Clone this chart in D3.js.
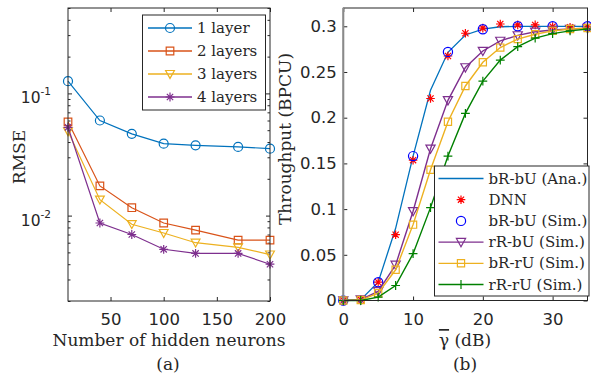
<!DOCTYPE html>
<html>
<head>
<meta charset="UTF-8">
<title>rmse_and_throughput</title>

<style type="text/css">
	body { margin: 0; background: #fff; }
	text { fill: #262626; }
	.tick text { font-family: "DejaVu Sans", sans-serif; font-size: 16.5px; fill: #262626; }
	.axis path { display: none; }
	.axis line { stroke: #262626; stroke-width: 1; }
	.label { font-family: "DejaVu Serif", serif; font-size: 17px; }
	.legend text { font-family: "DejaVu Serif", serif; font-size: 15px; }
</style>

<script type="text/javascript" src="https://d3js.org/d3.v7.min.js"></script>
</head>
<body>

<div id="div_main"></div>

<script type="text/javascript">

	// ---- (a) RMSE vs hidden neurons ----
	var neurons = [10, 40, 70, 100, 130, 170, 200];
	var rmse1 = [0.126, 0.060, 0.0467, 0.0388, 0.0376, 0.0365, 0.0353];
	var rmse2 = [0.0585, 0.0175, 0.0116, 0.0087, 0.0076, 0.0063, 0.0063];
	var rmse3 = [0.0490, 0.0135, 0.0085, 0.0072, 0.0060, 0.0055, 0.0048];
	var rmse4 = [0.0528, 0.0087, 0.0070, 0.0053, 0.0049, 0.0049, 0.0040];
	var layerNames = ["1 layer", "2 layers", "3 layers", "4 layers"];
	var neuronTicks = [50, 100, 150, 200];
	var rmseTicks = [0.01, 0.1];
	var rmseTickExp = ["-2", "-1"];

	// ---- (b) throughput vs average SNR ----
	var snr = [0, 2.5, 5, 7.5, 10, 12.5, 15, 17.5, 20, 22.5, 25, 27.5, 30, 32.5, 35];
	var tpAna = [0, 0.001, 0.020, 0.079, 0.158, 0.230, 0.2715, 0.2905, 0.297, 0.2995, 0.300, 0.300, 0.300, 0.300, 0.300];
	var tpDnn = [0, 0.001, 0.020, 0.072, 0.1535, 0.221, 0.2675, 0.2924, 0.298, 0.3025, 0.3015, 0.3015, 0.2997, 0.2990, 0.2995];
	var snrSim = [0, 5, 10, 15, 20, 25, 30, 35];
	var tpSim = [0, 0.020, 0.158, 0.272, 0.2968, 0.300, 0.300, 0.300];
	var tpRbU = [0, 0.001, 0.010, 0.039, 0.0976, 0.166, 0.219, 0.255, 0.273, 0.284, 0.290, 0.294, 0.296, 0.297, 0.298];
	var tpBrU = [0, 0.0005, 0.008, 0.0336, 0.083, 0.143, 0.1955, 0.2347, 0.2606, 0.2767, 0.286, 0.2913, 0.295, 0.297, 0.298];
	var tpRrU = [0, 0, 0.0037, 0.0164, 0.0512, 0.1016, 0.158, 0.2047, 0.240, 0.263, 0.2777, 0.287, 0.292, 0.295, 0.297];
	var schemeNames = ["bR-bU (Ana.)", "DNN", "bR-bU (Sim.)", "rR-bU (Sim.)", "bR-rU (Sim.)", "rR-rU (Sim.)"];
	var snrTicks = [0, 10, 20, 30];
	var tpTicks = [0, 0.05, 0.1, 0.15, 0.2, 0.25, 0.3];

	var blue = "#0072BD", orange = "#D95319", yellow = "#EDB120", purple = "#7E2F8E", green = "#008000";

	function markerPath(type, r) {
		var p = d3.path();
		if (type == "circle") { p.moveTo(r, 0); p.arc(0, 0, r, 0, 2 * Math.PI); }
		else if (type == "square") { p.rect(-r, -r, 2 * r, 2 * r); }
		else if (type == "tri") { p.moveTo(-r, -r * 0.8); p.lineTo(r, -r * 0.8); p.lineTo(0, r * 1.0); p.closePath(); }
		else if (type == "plus") { p.moveTo(-r, 0); p.lineTo(r, 0); p.moveTo(0, -r); p.lineTo(0, r); }
		else if (type == "star") {
			var k = r * 0.72;
			p.moveTo(-r, 0); p.lineTo(r, 0); p.moveTo(0, -r); p.lineTo(0, r);
			p.moveTo(-k, -k); p.lineTo(k, k); p.moveTo(-k, k); p.lineTo(k, -k);
		}
		return p.toString();
	}

	function drawSeries(g, xs, ys, sx, sy, color, marker, size, withLine, lw) {
		if (withLine) {
			var line = d3.line()
							.x(function (d, i) { return sx(xs[i]); })
							.y(function (d) { return sy(d); });
			g.append("path")
				.datum(ys)
				.attr("d", line)
				.attr("fill", "none")
				.attr("stroke", color)
				.attr("stroke-width", lw);
		}
		if (marker) {
			g.selectAll(null)
				.data(ys)
				.enter()
				.append("path")
					.attr("transform", function (d, i) { return "translate(" + sx(xs[i]) + "," + sy(d) + ")"; })
					.attr("d", markerPath(marker, size))
					.attr("fill", "none")
					.attr("stroke", color)
					.attr("stroke-width", 1.2);
		}
	}

	function legendRow(g, x0, x1, tx, y, label, color, marker, size, withLine) {
		if (withLine) {
			g.append("line").attr("x1", x0).attr("x2", x1).attr("y1", y).attr("y2", y)
				.attr("stroke", color).attr("stroke-width", 1.3);
		}
		if (marker) {
			g.append("path")
				.attr("transform", "translate(" + ((x0 + x1) / 2) + "," + y + ")")
				.attr("d", markerPath(marker, size))
				.attr("fill", "none").attr("stroke", color).attr("stroke-width", 1.2);
		}
		g.append("text").attr("x", tx).attr("y", y + 5).text(label);
	}

	var svg = d3.select("#div_main")
					.append("svg")
						.attr("width", 591)
						.attr("height", 377);

	// ================= panel (a) =================
	var ax = { x0: 68, x1: 270, y0: 8, y1: 301 };
	var xN = d3.scaleLinear().domain([10, 200]).range([ax.x0, ax.x1]);
	var yR = d3.scaleLog().domain([0.002, 0.5]).range([ax.y1, ax.y0]);

	var minorR = [];
	[0.001, 0.01, 0.1].forEach(function (b) {
		for (var m = 2; m <= 9; m++) { var v = b * m; if (v >= 0.002 && v <= 0.5) minorR.push(v); }
	});

	var ga = svg.append("g");
	ga.append("rect").attr("x", ax.x0).attr("y", ax.y0).attr("width", ax.x1 - ax.x0).attr("height", ax.y1 - ax.y0)
		.attr("fill", "#fff");

	ga.append("g").attr("class", "axis").attr("transform", "translate(0," + ax.y1 + ")")
		.call(d3.axisBottom(xN).tickValues(neuronTicks).tickSize(-4).tickPadding(12.5));
	ga.append("g").attr("class", "axis").attr("transform", "translate(0," + ax.y0 + ")")
		.call(d3.axisTop(xN).tickValues(neuronTicks).tickSize(-4).tickFormat(""));
	ga.append("g").attr("class", "axis").attr("transform", "translate(" + ax.x0 + ",0)")
		.call(d3.axisLeft(yR).tickValues(rmseTicks).tickSize(-4).tickFormat(""));
	ga.append("g").attr("class", "axis").attr("transform", "translate(" + ax.x1 + ",0)")
		.call(d3.axisRight(yR).tickValues(rmseTicks).tickSize(-4).tickFormat(""));
	ga.append("g").attr("class", "axis").attr("transform", "translate(" + ax.x0 + ",0)")
		.call(d3.axisLeft(yR).tickValues(minorR).tickSize(-2.5).tickFormat(""));
	ga.append("g").attr("class", "axis").attr("transform", "translate(" + ax.x1 + ",0)")
		.call(d3.axisRight(yR).tickValues(minorR).tickSize(-2.5).tickFormat(""));

	// 10^k labels
	rmseTicks.forEach(function (v, i) {
		var t = ga.append("text")
					.attr("x", 51)
					.attr("y", yR(v) + 10)
					.attr("text-anchor", "end")
					.style("font-family", "\"DejaVu Sans\", sans-serif")
					.style("font-size", "15.5px");
		t.append("tspan").text("10");
		t.append("tspan").attr("dy", -8).style("font-size", "10.5px").text(rmseTickExp[i]);
	});

	drawSeries(ga, neurons, rmse1, xN, yR, blue, "circle", 4.5, true, 1.2);
	drawSeries(ga, neurons, rmse2, xN, yR, orange, "square", 3.8, true, 1.2);
	drawSeries(ga, neurons, rmse3, xN, yR, yellow, "tri", 4.4, true, 1.2);
	drawSeries(ga, neurons, rmse4, xN, yR, purple, "star", 4.4, true, 1.2);

	ga.append("rect").attr("x", ax.x0).attr("y", ax.y0).attr("width", ax.x1 - ax.x0).attr("height", ax.y1 - ax.y0)
		.attr("fill", "none").attr("stroke", "#262626").attr("stroke-width", 1);

	var la = ga.append("g").attr("class", "legend");
	la.append("rect").attr("x", 142.5).attr("y", 15).attr("width", 123).attr("height", 95)
		.attr("fill", "#fff").attr("stroke", "#262626").attr("stroke-width", 1);
	var laCol = [blue, orange, yellow, purple], laMk = ["circle", "square", "tri", "star"], laSz = [4.5, 3.8, 4.4, 4.4];
	layerNames.forEach(function (n, i) {
		legendRow(la, 148, 192, 197, 28 + i * 23, n, laCol[i], laMk[i], laSz[i], true);
	});

	ga.append("text").attr("class", "label")
		.attr("transform", "translate(25,157) rotate(-90)")
		.attr("text-anchor", "middle").text("RMSE");
	ga.append("text").attr("class", "label")
		.attr("x", 169).attr("y", 346).attr("text-anchor", "middle").text("Number of hidden neurons");
	ga.append("text").attr("class", "label")
		.attr("x", 168).attr("y", 370).attr("text-anchor", "middle").text("(a)");

	// ================= panel (b) =================
	var bx = { x0: 343.3, x1: 587.5, y0: 8, y1: 300.5 };
	var xS = d3.scaleLinear().domain([0, 35]).range([bx.x0, bx.x1]);
	var yT = d3.scaleLinear().domain([0, 0.32]).range([bx.y1, bx.y0]);

	var gb = svg.append("g");
	gb.append("g").attr("class", "axis").attr("transform", "translate(0," + bx.y1 + ")")
		.call(d3.axisBottom(xS).tickValues(snrTicks).tickSize(-4).tickPadding(13));
	gb.append("g").attr("class", "axis").attr("transform", "translate(0," + bx.y0 + ")")
		.call(d3.axisTop(xS).tickValues(snrTicks).tickSize(-4).tickFormat(""));
	gb.append("g").attr("class", "axis").attr("transform", "translate(" + bx.x0 + ",0)")
		.call(d3.axisLeft(yT).tickValues(tpTicks).tickSize(-4).tickPadding(6.5).tickFormat(d3.format("~g")));
	gb.append("g").attr("class", "axis").attr("transform", "translate(" + bx.x1 + ",0)")
		.call(d3.axisRight(yT).tickValues(tpTicks).tickSize(-4).tickFormat(""));

	drawSeries(gb, snr, tpAna, xS, yT, blue, null, 0, true, 1.3);
	drawSeries(gb, snr, tpDnn, xS, yT, "#FF0000", "star", 4.3, false, 0);
	drawSeries(gb, snrSim, tpSim, xS, yT, "#0000FF", "circle", 4.6, false, 0);
	drawSeries(gb, snr, tpRbU, xS, yT, purple, "tri", 4.6, true, 1.4);
	drawSeries(gb, snr, tpBrU, xS, yT, yellow, "square", 3.6, true, 1.4);
	drawSeries(gb, snr, tpRrU, xS, yT, green, "plus", 4.4, true, 1.4);

	gb.append("rect").attr("x", bx.x0).attr("y", bx.y0).attr("width", bx.x1 - bx.x0).attr("height", bx.y1 - bx.y0)
		.attr("fill", "none").attr("stroke", "#262626").attr("stroke-width", 1);
	gb.append("line").attr("x1", bx.x0).attr("x2", bx.x0).attr("y1", bx.y0).attr("y2", bx.y1)
		.attr("stroke", "#8a8a8a").attr("stroke-width", 2);

	var lb = gb.append("g").attr("class", "legend");
	lb.append("rect").attr("x", 434.5).attr("y", 166).attr("width", 154.5).attr("height", 130)
		.attr("fill", "#fff").attr("stroke", "#262626").attr("stroke-width", 1);
	var lbCol = [blue, "#FF0000", "#0000FF", purple, yellow, green];
	var lbMk = [null, "star", "circle", "tri", "square", "plus"];
	var lbSz = [0, 4.3, 4.6, 4.6, 3.6, 4.4];
	var lbLine = [true, false, false, true, true, true];
	schemeNames.forEach(function (n, i) {
		legendRow(lb, 438.5, 483.5, 488.5, 178.5 + i * 21.2, n, lbCol[i], lbMk[i], lbSz[i], lbLine[i]);
	});

	gb.append("text").attr("class", "label")
		.attr("transform", "translate(291,139) rotate(-90)")
		.attr("text-anchor", "middle").text("Throughput (BPCU)");
	var gl = gb.append("text").attr("class", "label")
		.attr("x", 465).attr("y", 346).attr("text-anchor", "middle");
	gl.append("tspan").style("text-decoration", "overline").text("γ");
	gl.append("tspan").text(" (dB)");
	gb.append("text").attr("class", "label")
		.attr("x", 465).attr("y", 370).attr("text-anchor", "middle").text("(b)");

</script>

</body>
</html>
